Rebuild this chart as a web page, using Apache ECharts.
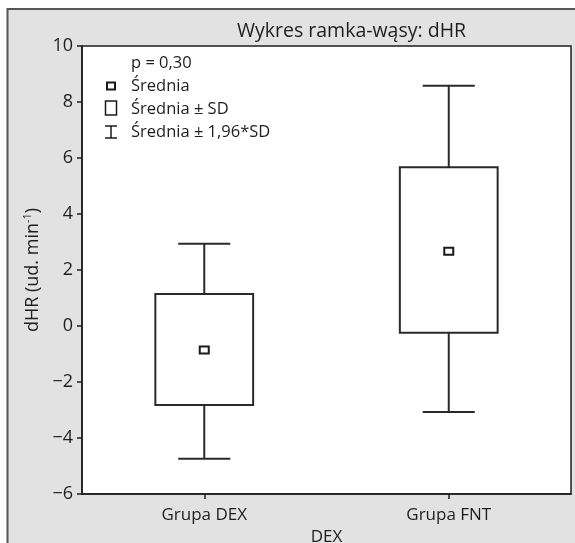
<!DOCTYPE html>
<html>
<head>
<meta charset="utf-8">
<script src="https://cdn.jsdelivr.net/npm/echarts@6/dist/echarts.min.js"></script>
<style>
html,body{margin:0;padding:0;background:#fff;}
#chart{width:575px;height:543px;}
</style>
</head>
<body>
<div id="chart"></div>
<script>
const categories = ['Grupa DEX', 'Grupa FNT'];
const means = [-0.86, 2.67];
const sdLow = [-2.82, -0.24];
const sdHigh = [1.14, 5.67];
const ciLow = [-4.74, -3.07];
const ciHigh = [2.94, 8.58];
const yTicks = {min: -6, max: 10, interval: 2};

const FONT = 'Open Sans';
const INK = '#1e1e1e';
const LINE = '#2a2a2a';

const chart = echarts.init(document.getElementById('chart'), null, {renderer: 'canvas'});

const seriesData = categories.map((c, i) => [i, means[i], sdLow[i], sdHigh[i], ciLow[i], ciHigh[i]]);

function renderItem(params, api) {
  const idx = api.value(0);
  const m = api.coord([idx, api.value(1)]);
  const sl = api.coord([idx, api.value(2)]);
  const sh = api.coord([idx, api.value(3)]);
  const cl = api.coord([idx, api.value(4)]);
  const ch = api.coord([idx, api.value(5)]);
  const band = api.size([1, 0])[0];
  const boxW = band * 0.4;
  const capW = band * 0.213;
  const x = m[0];
  const st = {stroke: LINE, lineWidth: 2, fill: null};
  return {
    type: 'group',
    children: [
      {type: 'line', shape: {x1: x, y1: ch[1], x2: x, y2: sh[1]}, style: st},
      {type: 'line', shape: {x1: x - capW / 2, y1: ch[1], x2: x + capW / 2, y2: ch[1]}, style: st},
      {type: 'line', shape: {x1: x, y1: sl[1], x2: x, y2: cl[1]}, style: st},
      {type: 'line', shape: {x1: x - capW / 2, y1: cl[1], x2: x + capW / 2, y2: cl[1]}, style: st},
      {type: 'rect', shape: {x: x - boxW / 2, y: sh[1], width: boxW, height: sl[1] - sh[1]}, style: {stroke: LINE, lineWidth: 2, fill: 'rgba(255,255,255,0)'}},
      {type: 'rect', shape: {x: x - 4.5, y: m[1] - 3.5, width: 9, height: 7}, style: {stroke: '#1a1a1a', lineWidth: 2, fill: '#fff'}}
    ]
  };
}

const legendX = 111;
const LF = '16.5px "Open Sans"';
const option = {
  backgroundColor: '#ffffff',
  animation: false,
  textStyle: {fontFamily: FONT},
  grid: {left: 82, top: 46, right: 4, bottom: 49, show: true, backgroundColor: '#ffffff', borderColor: '#1e1e1e', borderWidth: 1.5, outerBoundsMode: 'none', containLabel: false},
  graphic: [
    {type: 'rect', z: -10, shape: {x: 7.5, y: 9, width: 600, height: 560}, style: {fill: '#e2e2e2', stroke: '#555', lineWidth: 2}},
    {type: 'text', x: 237, y: 31, style: {text: 'Wykres ramka-wąsy: dHR', font: '19.5px "Open Sans"', fill: INK, verticalAlign: 'middle'}},
    {type: 'text', x: 131, y: 63, style: {text: 'p = 0,30', font: LF, fill: INK, verticalAlign: 'middle'}, z: 10},
    {type: 'rect', x: legendX - 4, y: 86 - 3.5, shape: {width: 8, height: 7}, style: {stroke: '#1a1a1a', lineWidth: 2, fill: '#fff'}, z: 10},
    {type: 'text', x: 131, y: 86, style: {text: 'Średnia', font: LF, fill: INK, verticalAlign: 'middle'}, z: 10},
    {type: 'rect', x: legendX - 5.5, y: 108 - 7, shape: {width: 11, height: 14}, style: {stroke: '#1a1a1a', lineWidth: 1.5, fill: '#fff'}, z: 10},
    {type: 'text', x: 131, y: 109, style: {text: 'Średnia ± SD', font: LF, fill: INK, verticalAlign: 'middle'}, z: 10},
    {type: 'group', x: legendX, y: 132, z: 10, children: [
      {type: 'line', shape: {x1: -6, y1: -6, x2: 6, y2: -6}, style: {stroke: '#1a1a1a', lineWidth: 1.5}},
      {type: 'line', shape: {x1: 0, y1: -6, x2: 0, y2: 6}, style: {stroke: '#1a1a1a', lineWidth: 1.5}},
      {type: 'line', shape: {x1: -6, y1: 6, x2: 6, y2: 6}, style: {stroke: '#1a1a1a', lineWidth: 1.5}}
    ]},
    {type: 'text', x: 131, y: 132, style: {text: 'Średnia ± 1,96*SD', font: LF, fill: INK, verticalAlign: 'middle'}, z: 10}
  ],
  xAxis: {
    type: 'category',
    data: categories,
    boundaryGap: true,
    name: 'DEX',
    nameLocation: 'middle',
    nameGap: 33,
    nameTextStyle: {fontSize: 17, color: INK, fontFamily: FONT},
    axisLine: {show: true, onZero: false, lineStyle: {color: '#1e1e1e', width: 1.5}},
    axisTick: {show: true, alignWithLabel: true, length: 5, lineStyle: {color: '#1e1e1e', width: 1.5}},
    axisLabel: {fontSize: 17, color: INK, margin: 13, fontFamily: FONT},
    splitLine: {show: false}
  },
  yAxis: {
    type: 'value',
    min: yTicks.min,
    max: yTicks.max,
    interval: yTicks.interval,
    name: 'dHR (ud. min{sup|-1})',
    nameLocation: 'middle',
    nameRotate: 90,
    nameGap: 33,
    nameTextStyle: {fontSize: 18, color: INK, fontFamily: FONT, rich: {sup: {fontSize: 11, color: INK, fontFamily: FONT, padding: [0, 0, 9, 0]}}},
    axisLine: {show: true, onZero: false, lineStyle: {color: '#1e1e1e', width: 1.5}},
    axisTick: {show: true, length: 5, lineStyle: {color: '#1e1e1e', width: 1.5}},
    axisLabel: {fontSize: 18, color: INK, margin: 9, fontFamily: FONT, formatter: v => (v < 0 ? '\u2212' + Math.abs(v) : String(v))},
    splitLine: {show: false}
  },
  series: [{
    type: 'custom',
    renderItem: renderItem,
    encode: {x: 0, y: [1, 2, 3, 4, 5]},
    data: seriesData,
    clip: false
  }]
};
chart.setOption(option);
</script>
</body>
</html>
